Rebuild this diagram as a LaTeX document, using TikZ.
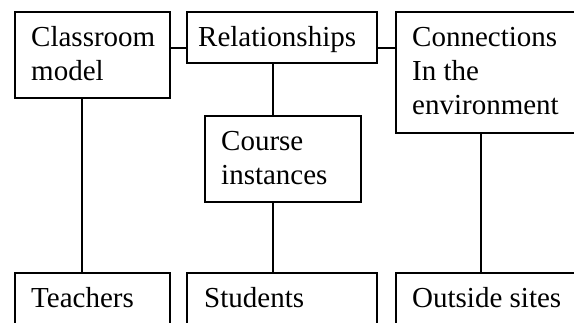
\documentclass[tikz,border=0pt]{standalone}
\usepackage{fontspec}
\setmainfont{Liberation Serif}
\begin{document}
\begin{tikzpicture}[x=1pt,y=-1pt,
  box/.style={draw=black,line width=2.4pt,rectangle,inner sep=0pt,anchor=north west},
  lbl/.style={inner sep=0pt,anchor=base west,align=left,font=\fontsize{29}{34}\selectfont},
  link/.style={draw=black,line width=2.4pt}]
\useasboundingbox (0,0) rectangle (574,322);
% boxes
\node[box,minimum width=155pt,minimum height=86pt] (cls) at (14,11) {};
\node[box,minimum width=190pt,minimum height=51pt] (rel) at (186,11) {};
\node[box,minimum width=220pt,minimum height=121pt] (con) at (395,11) {};
\node[box,minimum width=156pt,minimum height=86pt] (crs) at (204,115) {};
\node[box,minimum width=155pt,minimum height=80pt] (tea) at (14,272) {};
\node[box,minimum width=190pt,minimum height=80pt] (stu) at (186,272) {};
\node[box,minimum width=220pt,minimum height=80pt] (out) at (395,272) {};
% labels (anchored at the baseline of their last line)
\node[lbl] (tcls) at (31,80) {Classroom\\model};
\node[lbl] (trel) at (198,46) {Relationships};
\node[lbl] (tcon) at (412,114) {Connections\\In the\\environment};
\node[lbl] (tcrs) at (221,184) {Course\\instances};
\node[lbl] (ttea) at (31,307) {Teachers};
\node[lbl] (tstu) at (204,307) {Students};
\node[lbl] (tout) at (412,307) {Outside sites};
% connectors
\draw[link] ([yshift=-37pt]cls.north east) -- ([yshift=-37pt]rel.north west);
\draw[link] ([yshift=-37pt]rel.north east) -- ([yshift=-37pt]con.north west);
\draw[link] ([xshift=87pt]rel.south west) -- ([xshift=87pt]rel.south west |- crs.north);
\draw[link] ([xshift=87pt]rel.south west |- crs.south) -- ([xshift=87pt]stu.north west);
\draw[link] ([xshift=68pt]cls.south west) -- ([xshift=68pt]tea.north west);
\draw[link] ([xshift=86pt]con.south west) -- ([xshift=86pt]con.south west |- out.north);
\end{tikzpicture}
\end{document}
